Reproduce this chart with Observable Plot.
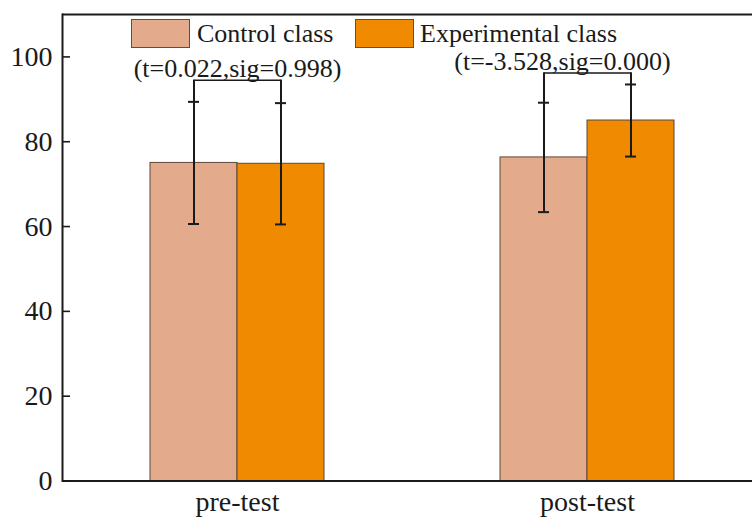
<!DOCTYPE html>
<html>
<head>
<meta charset="utf-8">
<script src="https://cdn.jsdelivr.net/npm/d3@7"></script>
<script src="https://cdn.jsdelivr.net/npm/@observablehq/plot@0.6"></script>
<style>
  html, body { margin: 0; padding: 0; background: #fff; overflow: hidden; }
  #wrap { position: relative; width: 752px; height: 517px; overflow: hidden; font-family: "Liberation Serif", "Times New Roman", serif; }
  #chart svg { max-width: none !important; }
  .lg { position: absolute; top: 19px; height: 29px; line-height: 29px; font-size: 26px; color: #1a1a1a; white-space: nowrap; }
  .sw { position: absolute; top: 19px; width: 57px; height: 27px; border: 1px solid #6a4a3a; }
</style>
</head>
<body>
<div id="wrap">
  <div id="chart"></div>
  <div id="legend"></div>
</div>
<script>
const groups = ["pre-test", "post-test"];
const series = ["Control class", "Experimental class"];
const means = [[75.0, 74.8], [76.3, 85.0]];
const sds = [[14.4, 14.3], [12.9, 8.5]];
const tLabels = ["(t=0.022,sig=0.998)", "(t=-3.528,sig=0.000)"];
const bracketTops = [94.5, 96.2];
const yTicks = [0, 20, 40, 60, 80, 100];
const colors = ["#E4AA8C", "#F08A00"];

const rows = [];
groups.forEach((g, i) => series.forEach((s, j) => rows.push({
  group: g, series: s, mean: means[i][j], sd: sds[i][j],
  lo: means[i][j] - sds[i][j], hi: means[i][j] + sds[i][j], top: bracketTops[i]
})));
const brackets = rows.map(d => ({group: d.group, series: d.series, y: d.top}));
const notes = groups.map((g, i) => ({group: g, label: tLabels[i], y: bracketTops[i]}));

const ink = "#1a1a1a";
const chart = Plot.plot({
  width: 762,
  height: 517,
  marginLeft: 62,
  marginRight: 0,
  marginTop: 14,
  marginBottom: 36.5,
  style: {fontFamily: "'Liberation Serif', 'Times New Roman', serif", color: ink, background: "transparent", maxWidth: "none"},
  fx: {domain: groups, padding: 0, label: null},
  x: {domain: series, paddingInner: 0, paddingOuter: 1, axis: null},
  y: {domain: [0, 110], label: null},
  color: {domain: series, range: colors},
  marks: [
    Plot.barY(rows, {fx: "group", x: "series", y: "mean", fill: "series", stroke: "#5e4638", strokeWidth: 1}),
    Plot.ruleX(rows, {fx: "group", x: "series", y1: "lo", y2: "top", stroke: ink, strokeWidth: 2}),
    Plot.tickY(rows, {fx: "group", x: "series", y: "hi", stroke: ink, strokeWidth: 2, inset: 38}),
    Plot.tickY(rows, {fx: "group", x: "series", y: "lo", stroke: ink, strokeWidth: 2, inset: 38}),
    Plot.lineY(brackets, {fx: "group", x: "series", y: "y", z: "group", stroke: ink, strokeWidth: 1.6}),
    Plot.text(notes, {fx: "group", y: "y", text: "label", fontSize: 26, fill: ink, lineAnchor: "bottom", dy: -3}),
    Plot.ruleY([0], {stroke: ink, strokeWidth: 2}),
    Plot.ruleY([110], {stroke: ink, strokeWidth: 2}),
    Plot.frame({anchor: "left", facetAnchor: "left", stroke: ink, strokeWidth: 2}),
    Plot.axisY({ticks: yTicks, tickSize: -8, tickPadding: 18, fontSize: 28, strokeWidth: 1.6, label: null, tickFormat: d => String(d)}),
    Plot.axisFx({anchor: "bottom", tickSize: 0, tickPadding: 10, fontSize: 28, label: null})
  ]
});
document.getElementById("chart").appendChild(chart);

// shift the post-test annotation slightly left, as in the reference
chart.querySelectorAll("text").forEach(t => {
  if (t.textContent === tLabels[1]) t.setAttribute("transform", (t.getAttribute("transform") || "") + " translate(-25,0)");
});

const legend = document.getElementById("legend");
const swLeft = [131, 355];
const txLeft = [197, 420];
series.forEach((s, i) => {
  const sw = document.createElement("div");
  sw.className = "sw";
  sw.style.left = swLeft[i] + "px";
  sw.style.background = colors[i];
  legend.appendChild(sw);
  const tx = document.createElement("div");
  tx.className = "lg";
  tx.style.left = txLeft[i] + "px";
  tx.textContent = s;
  legend.appendChild(tx);
});
</script>
</body>
</html>
